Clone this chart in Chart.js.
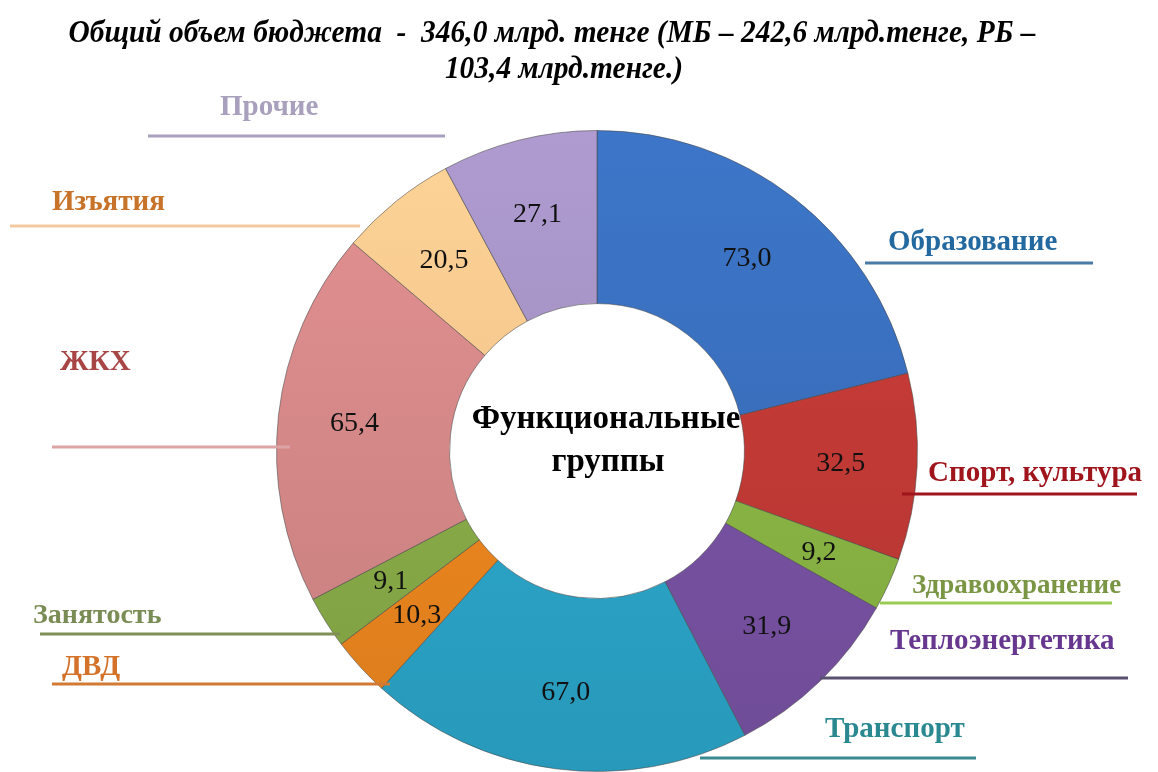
<!DOCTYPE html>
<html>
<head>
<meta charset="utf-8">
<script src="https://cdn.jsdelivr.net/npm/chart.js@4.4.1/dist/chart.umd.min.js"></script>
<style>
  html, body { margin: 0; padding: 0; background: #fff; }
  #wrap { width: 1158px; height: 772px; position: relative; }
</style>
</head>
<body>
<div id="wrap"><canvas id="budget"></canvas></div>
<script>
const categories = ['Образование', 'Спорт, культура', 'Здравоохранение', 'Теплоэнергетика', 'Транспорт',
  'ДВД', 'Занятость', 'ЖКХ', 'Изъятия', 'Прочие'];
const amounts = [73.0, 32.5, 9.2, 31.9, 67.0, 10.3, 9.1, 65.4, 20.5, 27.1];
const sliceColors = ['#3a70bf', '#c43a36', '#8cb845', '#7a53a6', '#2ca8cc',
  '#f0881f', '#8aae48', '#d98a8a', '#fdca90', '#a794c6'];
const titleLines = ['Общий объем бюджета  -  346,0 млрд. тенге (МБ – 242,6 млрд.тенге, РБ –',
  '103,4 млрд.тенге.)'];
const centerLines = ['Функциональные', 'группы'];

// where each outside caption sits: text left/baseline, underline x-range and y
const captionLayout = [
  { tx: 888, ty: 250, x0: 865, x1: 1093, ly: 263, size: 29, text: '#2468a0', line: '#4a7aa6' },
  { tx: 928, ty: 481, x0: 902, x1: 1137, ly: 494, size: 29, text: '#a0141c', line: '#a0141c' },
  { tx: 912, ty: 593, x0: 880, x1: 1112, ly: 603, size: 27, text: '#7a9645', line: '#9acb55' },
  { tx: 890, ty: 649, x0: 820, x1: 1128, ly: 678, size: 29, text: '#67368f', line: '#5a5070' },
  { tx: 825, ty: 737, x0: 700, x1: 976, ly: 758, size: 29, text: '#2a8890', line: '#3a8a92' },
  { tx: 62, ty: 675, x0: 52, x1: 390, ly: 684, size: 29, text: '#d4722a', line: '#d27a34' },
  { tx: 33, ty: 623, x0: 40, x1: 340, ly: 634, size: 28, text: '#7a8c55', line: '#7f9055' },
  { tx: 60, ty: 370, x0: 52, x1: 290, ly: 447, size: 29, text: '#a84545', line: '#dca4a4' },
  { tx: 52, ty: 210, x0: 10, x1: 360, ly: 226, size: 29, text: '#c8732a', line: '#f2c9a0' },
  { tx: 220, ty: 115, x0: 148, x1: 445, ly: 136, size: 29, text: '#a8a0bc', line: '#a8a0bc' }
];

function shade(hex, f) {
  const n = parseInt(hex.slice(1), 16);
  const c = [n >> 16, (n >> 8) & 255, n & 255].map(v => Math.max(0, Math.min(255, Math.round(v * f))));
  return 'rgb(' + c.join(',') + ')';
}

const decorations = {
  id: 'decorations',
  afterDatasetsDraw(chart) {
    const ctx = chart.ctx;
    const meta = chart.getDatasetMeta(0);
    ctx.save();

    // values inside the ring
    ctx.fillStyle = '#111';
    ctx.font = '28px "Liberation Serif", serif';
    ctx.textAlign = 'center';
    ctx.textBaseline = 'middle';
    meta.data.forEach((arc, i) => {
      const p = arc.getProps(['x', 'y', 'startAngle', 'endAngle', 'innerRadius', 'outerRadius'], true);
      const a = (p.startAngle + p.endAngle) / 2;
      const r = (p.innerRadius + p.outerRadius) / 2 + 10;
      ctx.fillText(amounts[i].toFixed(1).replace('.', ','), p.x + Math.cos(a) * r, p.y + Math.sin(a) * r);
    });

    // captions with underlines
    ctx.textAlign = 'left';
    ctx.textBaseline = 'alphabetic';
    categories.forEach((name, i) => {
      const c = captionLayout[i];
      ctx.strokeStyle = c.line;
      ctx.lineWidth = 3;
      ctx.beginPath();
      ctx.moveTo(c.x0, c.ly);
      ctx.lineTo(c.x1, c.ly);
      ctx.stroke();
      ctx.font = 'bold ' + c.size + 'px "Liberation Serif", serif';
      ctx.fillStyle = c.text;
      ctx.fillText(name, c.tx, c.ty);
    });

    // centre text
    const cx = meta.data[0].x, cy = meta.data[0].y;
    ctx.fillStyle = '#000';
    ctx.textAlign = 'center';
    ctx.font = 'bold 33px "Liberation Serif", serif';
    ctx.fillText(centerLines[0], cx + 9, cy - 23);
    ctx.fillText(centerLines[1], cx + 11, cy + 20);

    // condensed bold italic title
    ctx.font = 'italic bold 32px "Liberation Serif", serif';
    const w0 = ctx.measureText(titleLines[0]).width;
    const sx = 967 / w0;
    ctx.textAlign = 'center';
    [[552, 42], [564, 78]].forEach(([x, y], k) => {
      ctx.save();
      ctx.translate(x, y);
      ctx.scale(sx, 1);
      ctx.fillText(titleLines[k], 0, 0);
      ctx.restore();
    });
    ctx.restore();
  }
};

new Chart(document.getElementById('budget'), {
  type: 'doughnut',
  data: {
    labels: categories,
    datasets: [{
      data: amounts,
      backgroundColor(context) {
        const chart = context.chart;
        const area = chart.chartArea;
        const base = sliceColors[context.dataIndex];
        if (!area) return base;
        const g = chart.ctx.createLinearGradient(0, area.top, 0, area.bottom);
        g.addColorStop(0, shade(base, 1.05));
        g.addColorStop(1, shade(base, 0.91));
        return g;
      },
      borderColor: 'rgba(70,70,70,0.55)',
      borderWidth: 1
    }]
  },
  options: {
    responsive: true,
    maintainAspectRatio: false,
    animation: false,
    cutout: '46%',
    layout: { padding: { top: 130, bottom: 0, left: 276, right: 240 } },
    plugins: { legend: { display: false }, tooltip: { enabled: false }, title: { display: false } }
  },
  plugins: [decorations]
});
</script>
</body>
</html>
